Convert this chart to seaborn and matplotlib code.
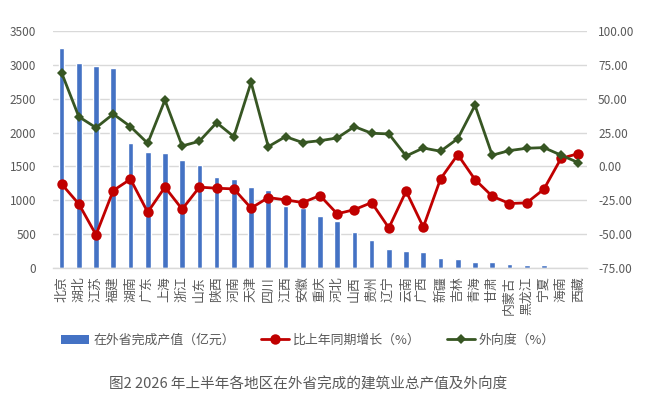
import numpy as np
import pandas as pd
import matplotlib
matplotlib.use("Agg")
import matplotlib.pyplot as plt
import seaborn as sns
from matplotlib.patches import Patch
from matplotlib.lines import Line2D

regions = ["北京", "湖北", "江苏", "福建", "湖南", "广东", "上海", "浙江", "山东", "陕西",
           "河南", "天津", "四川", "江西", "安徽", "重庆", "河北", "山西", "贵州", "辽宁",
           "云南", "广西", "新疆", "吉林", "青海", "甘肃", "内蒙古", "黑龙江", "宁夏", "海南", "西藏"]
output_value = [3250, 3020, 2990, 2950, 1850, 1710, 1695, 1600, 1525, 1340,
                1315, 1190, 1150, 920, 890, 770, 695, 530, 410, 280,
                250, 240, 150, 135, 95, 90, 62, 42, 40, 4, 2]
growth = [-13.0, -27.7, -50.5, -17.8, -9.4, -33.8, -15.3, -31.6, -15.3, -16.1,
          -16.6, -30.8, -23.0, -24.7, -26.7, -21.5, -35.0, -31.9, -26.7, -45.4,
          -18.3, -44.8, -9.2, 8.7, -9.7, -22.0, -27.4, -26.9, -16.8, 6.0, 9.4]
outward = [69.2, 36.7, 28.6, 38.7, 29.4, 17.1, 49.0, 15.1, 18.6, 32.3,
           22.0, 62.1, 14.6, 22.0, 17.6, 19.0, 21.0, 29.4, 24.5, 24.0,
           7.7, 13.6, 11.2, 20.5, 45.1, 8.3, 11.7, 13.4, 13.9, 8.3, 2.8]
left_ticks = [0, 500, 1000, 1500, 2000, 2500, 3000, 3500]
right_ticks = [-75, -50, -25, 0, 25, 50, 75, 100]
legend_labels = ["在外省完成产值（亿元）", "比上年同期增长（%）", "外向度（%）"]
title = "图2 2026 年上半年各地区在外省完成的建筑业总产值及外向度"

sns.set_style("white")
plt.rcParams['font.family'] = ['Noto Sans CJK SC', 'DejaVu Sans']

BLUE = '#4472C4'
RED = '#C00000'
GREEN = '#375623'
GRAY = '#595959'
GRID = '#D9D9D9'

df = pd.DataFrame({"region": regions, "value": output_value})
pos = np.arange(len(regions))

fig = plt.figure(figsize=(6.5, 4.01), dpi=100)
ax = fig.add_axes([0.0815, 0.3317, 0.8215, 0.591])

sns.barplot(data=df, x="region", y="value", color=BLUE, saturation=1, width=0.33, ax=ax, zorder=2)
ax.set_xlim(-0.5, len(regions) - 0.5)
ax.set_ylim(0, 3500)
ax.set_yticks(left_ticks)
ax.set_yticklabels([str(t) for t in left_ticks], fontsize=8.5, color=GRAY)
ax.set_xticks(pos)
ax.set_xticklabels(regions, fontsize=9.3, color=GRAY, rotation=90, ha='center', va='top')
ax.tick_params(axis='y', length=0, pad=12)
ax.tick_params(axis='x', length=0, pad=6)
ax.yaxis.grid(True, color=GRID, linewidth=1)
ax.set_axisbelow(True)
ax.set_xlabel("")
ax.set_ylabel("")
for s in ["top", "left", "right"]:
    ax.spines[s].set_visible(False)
ax.spines["bottom"].set_color(GRID)
ax.spines["bottom"].set_linewidth(1)

ax2 = ax.twinx()
sns.lineplot(x=pos, y=growth, ax=ax2, color=RED, marker='o', markersize=7.5,
             markeredgewidth=0, linewidth=2, legend=False, zorder=3)
sns.lineplot(x=pos, y=outward, ax=ax2, color=GREEN, marker='D', markersize=5,
             markeredgewidth=0, linewidth=2, legend=False, zorder=3)
ax2.set_ylim(-75, 100)
ax2.set_yticks(right_ticks)
ax2.set_yticklabels([f"{t:.2f}" for t in right_ticks], fontsize=8.5, color=GRAY)
ax2.tick_params(axis='y', length=0, pad=8)
ax2.set_ylabel("")
for s in ["top", "left", "right", "bottom"]:
    ax2.spines[s].set_visible(False)

handles = [Patch(facecolor=BLUE, edgecolor='none'),
           Line2D([0], [0], color=RED, linewidth=2, marker='o', markersize=7.5, markeredgewidth=0),
           Line2D([0], [0], color=GREEN, linewidth=2, marker='D', markersize=5, markeredgewidth=0)]
leg = fig.legend(handles, legend_labels, loc='center', bbox_to_anchor=(0.474, 0.152), ncol=3,
                 frameon=False, fontsize=9.3, handlelength=2.2, handletextpad=0.3,
                 columnspacing=2.0)
for t in leg.get_texts():
    t.set_color(GRAY)

fig.text(0.474, 1 - 385 / 401, title, ha='center', va='center', fontsize=10.5, color=GRAY)

fig.savefig("out.png", dpi=100)
